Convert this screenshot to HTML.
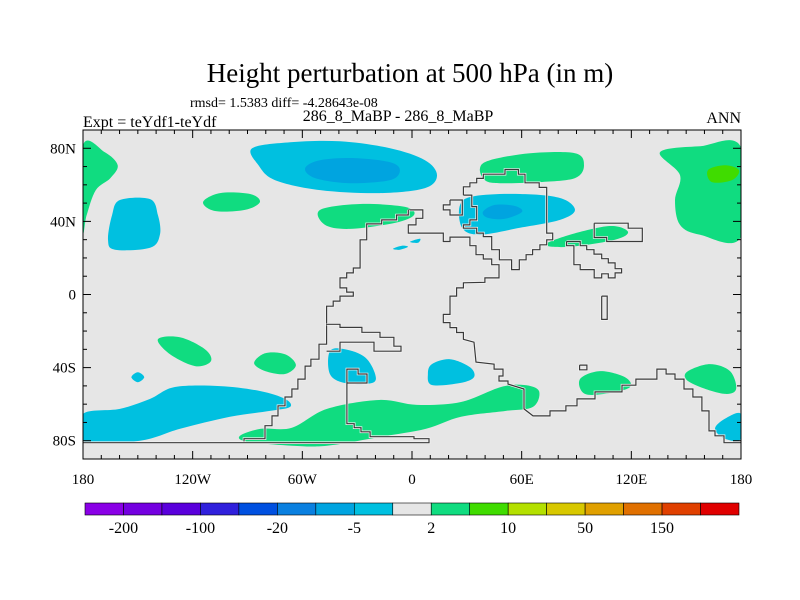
<!DOCTYPE html>
<html><head><meta charset="utf-8">
<style>
body{margin:0;background:#fff;}
svg{display:block;font-family:"Liberation Serif",serif;}
</style></head>
<body>
<svg id="chart" width="800" height="600" viewBox="0 0 800 600">
  <text x="410" y="82" font-size="27" text-anchor="middle">Height perturbation at 500 hPa (in m)</text>
  <text x="190" y="107" font-size="14">rmsd= 1.5383 diff= -4.28643e-08</text>
  <text x="83" y="127" font-size="16">Expt = teYdf1-teYdf</text>
  <text x="398" y="121" font-size="16" text-anchor="middle">286_8_MaBP - 286_8_MaBP</text>
  <text x="741" y="123" font-size="16" text-anchor="end">ANN</text>
  <rect x="83" y="130" width="658" height="329" fill="#e6e6e6"/>
  <g id="fills"></g>
  <g id="coast"></g>
  <g id="axes"></g>
  <rect x="83" y="130" width="658" height="329" fill="none" stroke="#000" stroke-width="1"/>
  <g id="cbar"></g>
</svg>
<script>
// ---- data ----
const lonTicks = [-180,-120,-60,0,60,120,180];
const lonLabels = ["180","120W","60W","0","60E","120E","180"];
const latTicks = [80,40,0,-40,-80];
const latLabels = ["80N","40N","0","40S","80S"];
const levelColors = ["#8a00e6","#7400e0","#5a00dc","#3020dc","#0050e0","#0a80e0","#00a4e0","#00c0e0","#e6e6e6","#10dc80","#40dc00","#b4e000","#d8c800","#e0a000","#e07000","#e04000","#e00000"];
const levelLabels = ["-200","-100","-20","-5","2","10","50","150"];
const levelLabelIdx = [1,3,5,7,9,11,13,15];

// contour regions: [level, points in [lon,lat]]
const blobLevels = [9,7,6,7,9,9,9,7,6,9,9,10,7,7,9,9,7,7,7,9,9,9,7];
const blobA = [[-180,81.6],[-168,77.8],[-161,70.7],[-165,63.7],[-173,57.1],[-178,43.5],[-180,35.4]];
const blobB = [[-87.5,80],[-66.7,83.3],[-39.4,83.8],[-12,80],[7.1,73.5],[13.7,65.3],[7.1,58.2],[-17.5,55.5],[-50.3,57.1],[-75,62.6],[-84,70.7]];
const blobBin = [[-58.5,69.1],[-50.3,73.5],[-31.2,74.6],[-12,72.4],[-6.6,68],[-12,62.6],[-34,60.9],[-53,63.7]];
const blobC = [[-159.8,51.7],[-143.3,52.2],[-139,43.5],[-137.9,32.7],[-143.3,25.6],[-162.5,24.5],[-166.3,29.9],[-164.1,43.5]];
const blobD = [[-114.3,50.6],[-105,55.5],[-88.6,55],[-83.2,50.6],[-91.4,46.3],[-107.8,45.7]];
const blobE = [[-50.3,46.3],[-28.4,49.5],[-3.8,47.9],[1.1,43.5],[-9.3,39.2],[-33.9,35.9],[-47.6,38.1]];
const blobF = [[37.2,69.1],[42.7,73.5],[64.6,77.3],[89.2,77.3],[94.1,70.7],[89.2,63.7],[70,61.5],[48.1,60.9],[39.9,62.6]];
const blobG = [[26.3,49],[34.5,53.9],[59.1,55],[81,52.8],[89.2,46.3],[81,40.8],[59.1,36.5],[37.2,32.7],[27.4,36.5]];
const blobGin = [[38.8,45.2],[45.3,49],[56.3,48.4],[60.2,45.2],[50.9,41.4],[41.6,41.9]];
const blobH = [[72.8,27.2],[86.4,32.7],[108.3,37.5],[118.2,34.3],[111,29.9],[86.4,26.1]];
const blobI = [[135.7,77.8],[157.6,81.1],[180,80.5],[180,31.6],[157.6,32.7],[146.6,38.1],[143.9,51.7],[146.6,65.3]];
const blobIin = [[161.9,68],[171.2,70.7],[178.9,68],[175.1,62.6],[164.1,61.5]];
const blobT1 = [[-10.4,25],[-5.5,26.7],[-2.2,26.1],[-6.6,24.5]];
const blobT2 = [[-1.1,28.8],[4.4,30.5],[3.3,28.3]];
const blobJ = [[-139,-24.5],[-127,-23.4],[-113.3,-29.9],[-110,-36.5],[-118.7,-39.2],[-132.4,-32.7]];
const blobK = [[-86.4,-37.5],[-80.3,-32.1],[-69.5,-32.7],[-63.5,-38.6],[-69.5,-43.5],[-80.3,-41.9]];
const blobL = [[-153.5,-45.2],[-150,-42.5],[-146.5,-45.2],[-150,-48]];
const blobM = [[-180,-65.3],[-159.8,-62.6],[-143.3,-57.1],[-129.7,-50.6],[-105,-50.1],[-83.2,-52.8],[-69.5,-57.1],[-66.7,-61.5],[-77.7,-63.7],[-99.6,-66.9],[-126.9,-73.5],[-148.8,-80],[-180,-80]];
const blobN = [[-44.9,-31],[-36.7,-29.9],[-25.7,-34.3],[-20.2,-43.5],[-21.9,-48.4],[-36.7,-48.4],[-44.9,-43.5]];
const blobO = [[10.9,-38.1],[20.8,-35.4],[31.7,-39.7],[33.9,-45.2],[26.3,-48.4],[10.9,-49.5],[8.7,-43.5]];
const blobP = [[-94.1,-77.3],[-82.6,-73.5],[-65.7,-72.9],[-46.5,-62.6],[-18,-57.7],[2.7,-60.4],[26.8,-58.8],[48.7,-50.6],[61.3,-49.5],[69.5,-52.8],[66.2,-61.5],[51.4,-63.7],[26.8,-66.9],[7.7,-73.5],[-16.9,-77.8],[-46.5,-82.7],[-65.7,-82.7],[-90.3,-80.5]];
const blobQ = [[91.9,-46.3],[102.9,-41.9],[116.5,-45.2],[119.3,-50.6],[108.3,-53.9],[94.6,-54.4]];
const blobR = [[151,-41.9],[163,-38.1],[174,-41.9],[177.3,-51.7],[171.2,-54.4],[157.6,-50.6],[149.9,-46.3]];
const blobS = [[180,-65.3],[180,-78.9],[171.2,-78.9],[165.8,-73.5],[171.2,-68]];
const blobs = [blobA,blobB,blobBin,blobC,blobD,blobE,blobF,blobG,blobGin,blobH,blobI,blobIin,blobT1,blobT2,blobJ,blobK,blobL,blobM,blobN,blobO,blobP,blobQ,blobR,blobS];
const blobLevelsAll = [9,7,6,7,9,9,9,7,6,9,9,10,7,7,9,9,7,7,7,7,9,9,9,7];

// coastlines [lon,lat]
const coastAF = [[-2.0,46.3],[5.9,46.3],[5.9,41.7],[2.2,41.7],[2.2,38.1],[-2.0,38.1],[-2.0,33.6],[17.1,33.6],[17.1,29.0],[20.8,29.0],[20.8,31.4],[31.7,31.4],[31.7,26.7],[35.0,26.7],[35.0,21.8],[39.0,21.8],[39.0,19.4],[43.6,19.4],[43.6,16.3],[47.6,16.3],[47.6,9.1],[39.9,9.1],[39.9,6.7],[28.1,6.4],[28.1,3.6],[24.4,3.6],[24.4,-0.9],[20.8,-0.9],[20.8,-10.9],[17.1,-10.9],[17.1,-15.4],[20.8,-15.4],[20.8,-18.1],[24.4,-18.1],[24.4,-20.8],[28.1,-20.8],[28.1,-24.5],[33.9,-26.1],[35.0,-37.0],[44.9,-38.1],[44.9,-40.8],[49.8,-40.8],[49.8,-44.6],[47.6,-44.6],[47.6,-47.3],[52.5,-47.3],[52.5,-49.0],[61.3,-51.7],[61.3,-62.6],[66.2,-66.4],[75.5,-66.4],[75.5,-63.7],[84.2,-63.7],[84.2,-60.9],[90.3,-60.9],[90.3,-57.1],[100.1,-57.1],[100.1,-53.3],[114.9,-53.3],[114.9,-49.6],[122.5,-49.6],[122.5,-46.3],[134.0,-46.3],[134.0,-40.8],[139.0,-40.8],[139.0,-43.5],[143.9,-43.5],[143.9,-46.3],[148.8,-46.3],[148.8,-51.7],[153.7,-51.7],[153.7,-56.1],[158.6,-56.1],[158.6,-63.7],[162.5,-63.7],[162.5,-74.6],[165.8,-74.6],[165.8,-77.3],[170.7,-77.3],[170.7,-81.1],[180,-81.1]];
const coastW = [[-2.0,46.3],[-2.0,43.5],[-8.4,43.5],[-8.4,40.8],[-16.6,40.8],[-16.6,38.6],[-24.8,38.6],[-24.8,29.9],[-28.4,29.9],[-28.4,14.5],[-32.1,14.5],[-32.1,11.8],[-35.7,11.8],[-35.7,9.1],[-39.4,9.1],[-39.4,3.6],[-35.7,3.6],[-35.7,1.3],[-32.1,1.3],[-32.1,-0.9],[-39.4,-0.9],[-39.4,-3.6],[-43.1,-3.6],[-43.1,-6.4],[-46.7,-6.4],[-46.7,-27.2],[-50.9,-27.2],[-50.9,-35.4],[-55.3,-35.4],[-55.3,-39.2],[-58.5,-39.2],[-58.5,-46.3],[-62.4,-46.3],[-62.4,-51.7],[-65.7,-51.7],[-65.7,-56.1],[-69.5,-56.1],[-69.5,-60.9],[-73.3,-60.9],[-73.3,-66.4],[-76.6,-66.4],[-76.6,-71.8],[-80.4,-71.8],[-80.4,-78.9],[-91.9,-78.9],[-91.9,-81.1]];
const coastS = [[-180,-81.1],[9.3,-81.1],[9.3,-78.9],[1.1,-78.9],[1.1,-77.8],[-22.9,-77.8],[-22.9,-75.1],[-27.9,-75.1],[-27.9,-72.9],[-31.6,-72.9],[-31.6,-70.7],[-35.6,-70.7],[-35.6,-48.4],[-35.6,-40.8],[-29.5,-40.8],[-29.5,-43.5],[-24.6,-43.5],[-24.6,-48.4],[-35.6,-48.4]];
const coastSA = [[-46.7,-16.3],[-39.4,-16.3],[-39.4,-18.0],[-27.4,-18.0],[-27.4,-20.7],[-17.5,-20.7],[-17.5,-23.4],[-9.9,-23.4],[-9.9,-28.3],[-6.0,-28.3],[-6.0,-31.0],[-20.8,-31.0],[-20.8,-26.1],[-39.4,-26.1],[-39.4,-31.0],[-46.7,-31.0]];
const coastEU = [[28.1,54.4],[28.1,58.9],[31.7,58.9],[31.7,61.1],[35.4,61.1],[35.4,63.5],[39.0,63.5],[39.0,65.8],[50.9,65.8],[50.9,68.4],[58.2,68.4],[58.2,65.8],[61.8,65.8],[61.8,61.1],[69.6,61.1],[69.6,58.6],[73.7,58.6],[73.7,33.6],[77.0,33.6],[77.0,29.9],[73.7,29.9],[73.7,27.2],[70.0,27.2],[70.0,24.5],[66.0,24.5],[66.0,21.8],[62.4,21.8],[62.4,19.0],[58.7,19.0],[58.7,13.6],[54.5,13.6],[54.5,19.0],[47.8,19.0],[47.8,24.5],[43.6,24.5],[43.6,31.7],[39.0,31.7],[39.0,33.6],[35.4,33.6],[35.4,36.3],[28.1,36.3],[28.1,38.1],[31.7,38.1],[31.7,40.8],[35.4,40.8],[35.4,48.1],[32.7,48.1],[32.7,54.4],[28.1,54.4]];
const coastSmall = [[20.8,51.7],[27.5,51.7],[27.5,43.5],[20.8,43.5],[20.8,46.3],[17.1,46.3],[17.1,49.0],[20.8,49.0],[20.8,51.7]];
const coastAS = [[99.7,39.0],[118.3,39.0],[118.3,36.3],[126.0,36.3],[126.0,29.0],[106.5,29.0],[106.5,31.2],[99.7,31.2],[99.7,39.0]];
const coastPen = [[84.6,29.0],[92.0,29.0],[92.0,26.7],[95.6,26.7],[95.6,24.5],[99.6,24.5],[99.6,22.1],[103.8,22.1],[103.8,19.6],[107.4,19.6],[107.4,17.3],[111.1,17.3],[111.1,14.1],[114.7,14.1],[114.7,11.8],[111.1,11.8],[111.1,9.1],[107.4,9.1],[107.4,11.3],[103.8,11.3],[103.8,9.1],[99.7,9.1],[99.7,13.6],[92.0,13.6],[92.0,16.3],[88.6,16.3],[88.6,26.7],[84.6,26.7],[84.6,29.0]];
const coastBox = [[103.8,-0.9],[106.8,-0.9],[106.8,-13.6],[103.8,-13.6],[103.8,-0.9]];
const coastSq = [[91.7,-38.6],[95.7,-38.6],[95.7,-41.2],[91.7,-41.2],[91.7,-38.6]];
const coasts = [coastAF,coastW,coastS,coastSA,coastEU,coastSmall,coastAS,coastPen,coastBox,coastSq];

// ---- axis functions ----
const X0=83, X1=741, Y0=130, Y1=459;
const xOf = lon => X0 + (lon+180)/360*(X1-X0);
const yOf = lat => Y0 + (90-lat)/180*(Y1-Y0);
const NS="http://www.w3.org/2000/svg";
function mk(tag, attrs, parent){const e=document.createElementNS(NS,tag);for(const k in attrs)e.setAttribute(k,attrs[k]);parent.appendChild(e);return e;}

function smoothPath(pts){
  const p=pts.map(d=>[xOf(d[0]),yOf(d[1])]);const n=p.length;let s=`M${p[0][0].toFixed(1)},${p[0][1].toFixed(1)}`;
  for(let i=0;i<n;i++){const p0=p[(i-1+n)%n],p1=p[i],p2=p[(i+1)%n],p3=p[(i+2)%n];
    const c1=[p1[0]+(p2[0]-p0[0])/6,p1[1]+(p2[1]-p0[1])/6],c2=[p2[0]-(p3[0]-p1[0])/6,p2[1]-(p3[1]-p1[1])/6];
    s+=`C${c1[0].toFixed(1)},${c1[1].toFixed(1)} ${c2[0].toFixed(1)},${c2[1].toFixed(1)} ${p2[0].toFixed(1)},${p2[1].toFixed(1)}`;}
  return s+"Z";
}
const svg=document.getElementById('chart');
const defs=mk('defs',{},svg);
const cp=mk('clipPath',{id:'clip'},defs);
mk('rect',{x:X0,y:Y0,width:X1-X0,height:Y1-Y0},cp);
const fills=document.getElementById('fills');fills.setAttribute('clip-path','url(#clip)');
blobs.forEach((b,i)=>{
  const el=mk('path',{d:smoothPath(b),fill:levelColors[blobLevelsAll[i]]},fills);
  
  
});
const coastG=document.getElementById('coast');coastG.setAttribute('clip-path','url(#clip)');
coasts.forEach(c=>{
  const pts=c.map(d=>xOf(d[0]).toFixed(1)+","+yOf(d[1]).toFixed(1)).join(" ");
  mk('polyline',{points:pts,fill:'none',stroke:'#f4f4f4','stroke-width':2.6},coastG);
  const el=mk('polyline',{points:pts,fill:'none',stroke:'#3a3a3a','stroke-width':1.2},coastG);
  
  
});
// axes
const ax=document.getElementById('axes');
for(let lon=-180;lon<=180;lon+=10){
  const x=xOf(lon), L=(lon%60===0)?8:4;
  mk('line',{x1:x,y1:Y0,x2:x,y2:Y0+L,stroke:'#000'},ax);
  mk('line',{x1:x,y1:Y1,x2:x,y2:Y1-L,stroke:'#000'},ax);
}
for(let lat=-90;lat<=90;lat+=10){
  const y=yOf(lat), L=(lat%40===0)?8:4;
  mk('line',{x1:X0,y1:y,x2:X0+L,y2:y,stroke:'#000'},ax);
  mk('line',{x1:X1,y1:y,x2:X1-L,y2:y,stroke:'#000'},ax);
}
lonTicks.forEach((v,i)=>{
  const t=mk('text',{x:xOf(v),y:484,'font-size':15,'text-anchor':'middle'},ax);t.textContent=lonLabels[i];
  
  
});
latTicks.forEach((v,i)=>{
  const t=mk('text',{x:76,y:yOf(v)+5,'font-size':15,'text-anchor':'end'},ax);t.textContent=latLabels[i];
  
  
});
// colorbar
const cb=document.getElementById('cbar');
const CB0=85, CB1=739, CBY=503, CBH=12, bw=(CB1-CB0)/levelColors.length;
levelColors.forEach((c,i)=>{
  const r=mk('rect',{x:CB0+i*bw,y:CBY,width:bw,height:CBH,fill:c,stroke:'#000','stroke-width':0.6},cb);
  
  
});
levelLabels.forEach((l,i)=>{
  const t=mk('text',{x:CB0+levelLabelIdx[i]*bw,y:533,'font-size':16,'text-anchor':'middle'},cb);t.textContent=l;
  
  
});
</script>
</body></html>
